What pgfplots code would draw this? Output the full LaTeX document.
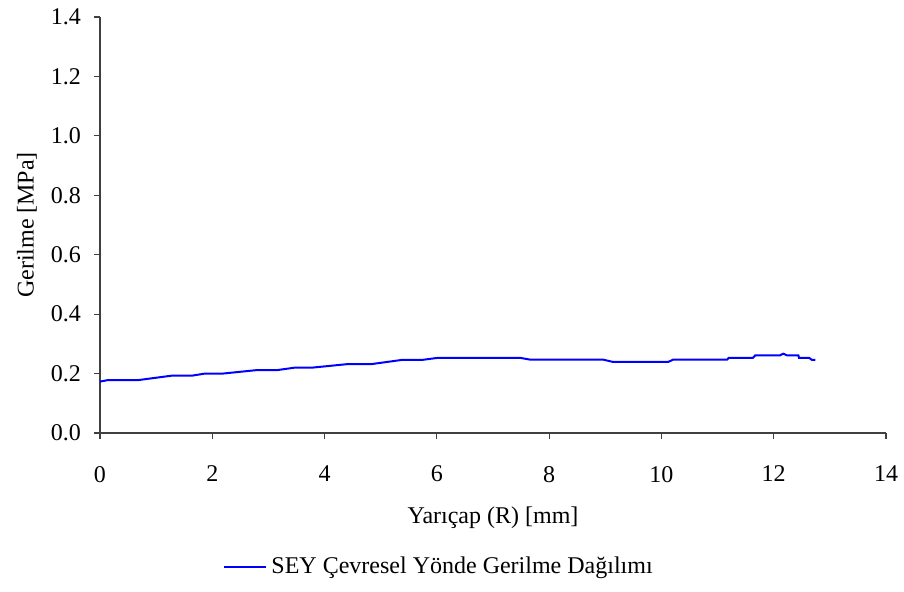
\documentclass[border=0pt]{standalone}
\usepackage{fontspec}
\setmainfont{Liberation Serif}
\usepackage{pgfplots}
\pgfplotsset{compat=1.18}
\begin{document}
\begin{tikzpicture}
\useasboundingbox (-50pt,-79.5pt) rectangle (402pt,216.5pt);
\begin{axis}[
  at={(0,0)}, anchor=south west,
  scale only axis, width=393pt, height=208pt,
  xmin=0, xmax=14, ymin=0, ymax=1.4,
  xtick={0,2,...,14}, ytick={0,0.2,...,1.4},
  axis x line=bottom, axis y line=left,
  axis line style={-, black!75, line width=0.6pt},
  tick style={black!75, line width=0.6pt},
  tick align=outside, major tick length=3pt,
  font=\fontsize{12}{14}\selectfont,
  /pgf/number format/assume math mode=true,
  xticklabel style={yshift=-10pt},
  yticklabel style={xshift=-3pt, /pgf/number format/.cd, fixed, fixed zerofill, precision=1},
  xlabel={Yarıçap (R) [mm]}, ylabel={Gerilme [MPa]},
  xlabel style={at={(axis description cs:0.5,0)}, anchor=center, yshift=-42.5pt},
  ylabel style={at={(axis description cs:0,0.5)}, anchor=center, yshift=36.5pt},
  legend style={at={(axis description cs:0.4326,0)}, anchor=center, yshift=-67pt, draw=none, fill=none, font=\fontsize{12}{14}\selectfont},
  legend cell align=left,
  legend image code/.code={\draw[#1] (0cm,0cm) -- (0.74cm,0cm);},
  clip=false,
]
\addplot[blue, line width=1pt] coordinates {
(0,0.173) (0.14,0.178) (0.68,0.178) (1.28,0.193) (1.64,0.193) (1.87,0.2) (2.19,0.2) (2.81,0.212) (3.17,0.212) (3.47,0.22) (3.78,0.22) (4.42,0.232) (4.84,0.232) (5.38,0.246) (5.74,0.246) (6.02,0.253) (7.48,0.253) (7.66,0.247) (8.96,0.247) (9.14,0.239) (10.12,0.239) (10.21,0.247) (11.17,0.247) (11.2,0.253) (11.63,0.253) (11.67,0.261) (12.11,0.261) (12.17,0.267) (12.24,0.261) (12.44,0.261) (12.45,0.253) (12.63,0.253) (12.68,0.246) (12.74,0.246)
};
\addlegendentry{SEY Çevresel Yönde Gerilme Dağılımı}
\end{axis}
\end{tikzpicture}
\end{document}
